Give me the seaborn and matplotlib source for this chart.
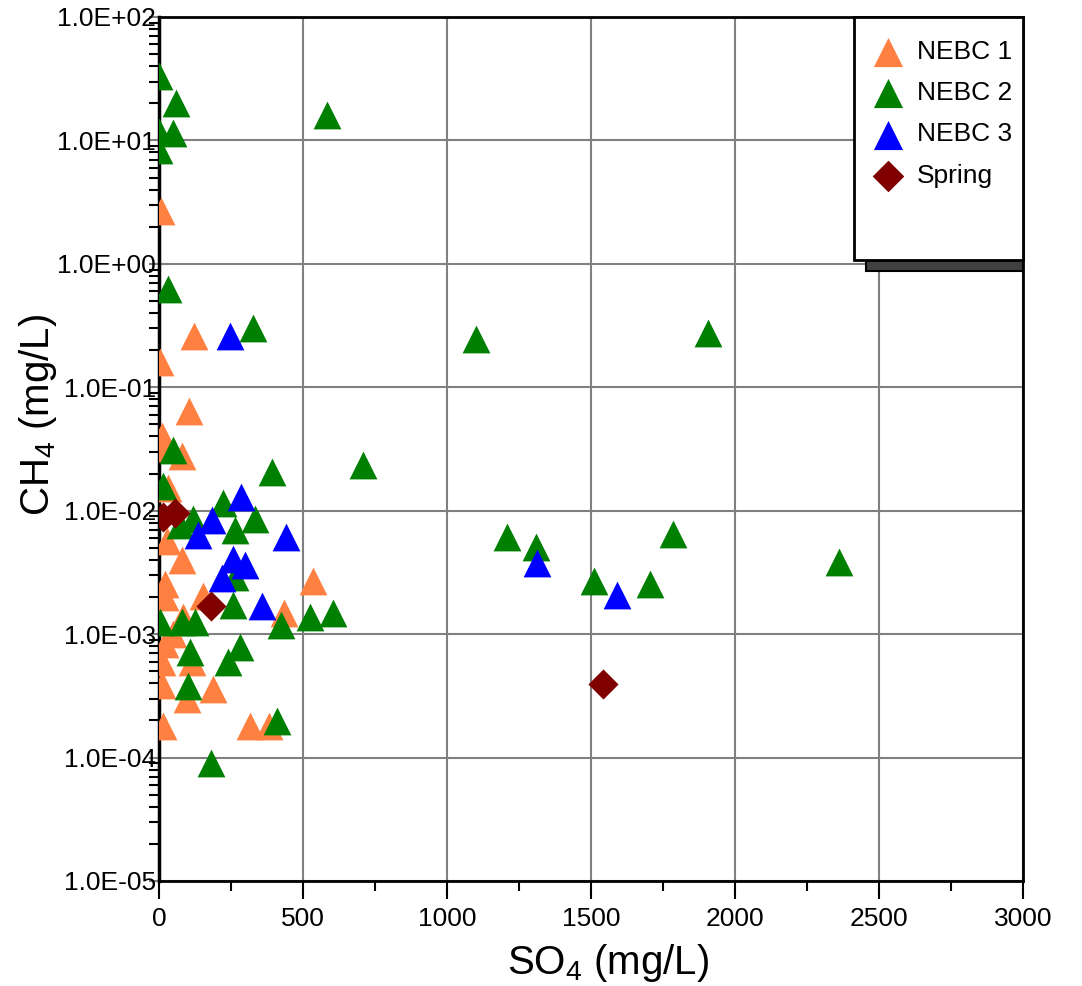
import numpy as np
import pandas as pd
import matplotlib
matplotlib.use("Agg")
import matplotlib.pyplot as plt
from matplotlib.ticker import FuncFormatter, LogLocator, MultipleLocator, NullFormatter
from matplotlib.patches import Rectangle
import seaborn as sns

# Sulfate (mg/L) and methane (mg/L) per well group
nebc1_so4 = [6, 122, 3, 105, 11, 3, 79, 32, 27, 79, 21, 21, 154, 536, 434, 84,
             50, 21, 9, 114, 9, 189, 96, 15, 316, 383]
nebc1_ch4 = [2.7, 0.26, 0.16, 0.064, 0.040, 0.032, 0.0275, 0.0152, 0.0057, 0.0040,
             0.00255, 0.0020, 0.00205, 0.00267, 0.00148, 0.00137, 0.0010, 0.00083,
             0.00059, 0.00059, 0.00039, 0.00036, 0.0003, 0.00018, 0.00018, 0.00018]

nebc2_so4 = [1, 59, 1, 48, 1, 582, 30, 327, 1100, 1906, 50, 391, 709, 15, 221,
             119, 73, 264, 333, 1207, 1310, 1510, 1706, 1785, 2362, 264, 258, 424,
             524, 603, 3, 79, 125, 108, 281, 241, 102, 409, 181]
nebc2_ch4 = [33, 20, 11.6, 11.5, 8.3, 16, 0.63, 0.30, 0.246, 0.274, 0.031, 0.0206,
             0.0234, 0.0159, 0.0116, 0.0085, 0.0076, 0.0070, 0.0085, 0.00615, 0.00505,
             0.00268, 0.00257, 0.00646, 0.00384, 0.00288, 0.00173, 0.00119, 0.00138,
             0.00148, 0.00125, 0.00126, 0.00126, 0.00072, 0.00079, 0.00059, 0.00038,
             0.000196, 0.00009]

nebc3_so4 = [248, 284, 183, 136, 440, 258, 299, 218, 359, 1314, 1590]
nebc3_ch4 = [0.26, 0.0129, 0.0084, 0.0063, 0.00615, 0.00406, 0.00366, 0.00284,
             0.0017, 0.00375, 0.00208]

spring_so4 = [15, 56, 180, 1542]
spring_ch4 = [0.0089, 0.0096, 0.0017, 0.000395]

groups = ["NEBC 1", "NEBC 2", "NEBC 3", "Spring"]
colors = {"NEBC 1": "#FF8040", "NEBC 2": "#008000", "NEBC 3": "#0000FF", "Spring": "#800000"}
markers = {"NEBC 1": "^", "NEBC 2": "^", "NEBC 3": "^", "Spring": "D"}
sizes = {"NEBC 1": 400, "NEBC 2": 400, "NEBC 3": 400, "Spring": 235}

df = pd.concat([
    pd.DataFrame({"SO4": nebc1_so4, "CH4": nebc1_ch4, "Site": "NEBC 1"}),
    pd.DataFrame({"SO4": nebc2_so4, "CH4": nebc2_ch4, "Site": "NEBC 2"}),
    pd.DataFrame({"SO4": nebc3_so4, "CH4": nebc3_ch4, "Site": "NEBC 3"}),
    pd.DataFrame({"SO4": spring_so4, "CH4": spring_ch4, "Site": "Spring"}),
], ignore_index=True)

sns.set_theme(style="white")
plt.rcParams["font.family"] = ["Liberation Sans", "DejaVu Sans"]
plt.rcParams["mathtext.fontset"] = "custom"
plt.rcParams["mathtext.rm"] = "Liberation Sans"
plt.rcParams["mathtext.it"] = "Liberation Sans:italic"
plt.rcParams["mathtext.default"] = "regular"
plt.rcParams["text.color"] = "black"
plt.rcParams["axes.labelcolor"] = "black"
plt.rcParams["xtick.labelcolor"] = "black"
plt.rcParams["ytick.labelcolor"] = "black"

W, H = 1082, 986
fig = plt.figure(figsize=(W / 100, H / 100), dpi=100)
ax = fig.add_axes([159 / W, 1 - 881 / H, 864 / W, 864 / H])

for g in groups:
    sns.scatterplot(data=df[df["Site"] == g], x="SO4", y="CH4", marker=markers[g],
                    color=colors[g], s=sizes[g], linewidth=0, label=g, ax=ax, zorder=3)

ax.set_yscale("log")
ax.set_xlim(0, 3000)
ax.set_ylim(1e-5, 1e2)

ax.set_axisbelow(True)
ax.grid(True, which="major", color="#808080", linewidth=1.5)
ax.grid(False, which="minor")

ax.xaxis.set_major_locator(MultipleLocator(500))
ax.xaxis.set_minor_locator(MultipleLocator(250))
ax.yaxis.set_major_locator(LogLocator(base=10, numticks=20))
ax.yaxis.set_minor_locator(LogLocator(base=10, subs=np.arange(2, 10), numticks=20))
ax.yaxis.set_minor_formatter(NullFormatter())
ax.yaxis.set_major_formatter(FuncFormatter(lambda v, p: f"{v:.1E}"))

ax.tick_params(axis="x", which="major", direction="out", length=13, width=1.5,
               color="black", labelsize=19, pad=6, bottom=True, labelcolor="black")
ax.tick_params(axis="x", which="minor", direction="out", length=7, width=1.5,
               color="black", bottom=True)
ax.tick_params(axis="y", which="major", direction="out", length=7, width=1.5,
               color="#808080", labelsize=19, pad=-5, left=True, labelcolor="black")
ax.tick_params(axis="y", which="minor", direction="out", length=7, width=1.5,
               color="black", left=True)

for side, lw in {"left": 2.5, "bottom": 2, "top": 2, "right": 2}.items():
    ax.spines[side].set_visible(True)
    ax.spines[side].set_color("black")
    ax.spines[side].set_linewidth(lw)

ax.set_xlabel("SO$_4$ (mg/L)", fontsize=29, color="black")
ax.set_ylabel("CH$_4$ (mg/L)", fontsize=29, color="black")
ax.xaxis.set_label_coords(0.52, -0.071)
ax.yaxis.set_label_coords(-0.116, 0.54)

# Legend panel with a drop shadow along its lower edge
ax.add_patch(Rectangle((0.818, 0.706), 0.182, 0.013, transform=ax.transAxes,
                       facecolor="#404040", edgecolor="black", linewidth=1.5,
                       zorder=5, clip_on=False))
ax.add_patch(Rectangle((0.804, 0.719), 0.196, 0.281, transform=ax.transAxes,
                       facecolor="white", edgecolor="black", linewidth=2,
                       zorder=5.5, clip_on=False))
leg = ax.legend(loc="upper left", bbox_to_anchor=(0.813, 0.986), frameon=False,
                fontsize=19, handlelength=1.2, handletextpad=0.5, markerscale=1.05,
                labelspacing=0.66, borderaxespad=0, borderpad=0.4)
leg.set_zorder(6)
for t in leg.get_texts():
    t.set_color("black")

fig.savefig("out.png", dpi=100)
